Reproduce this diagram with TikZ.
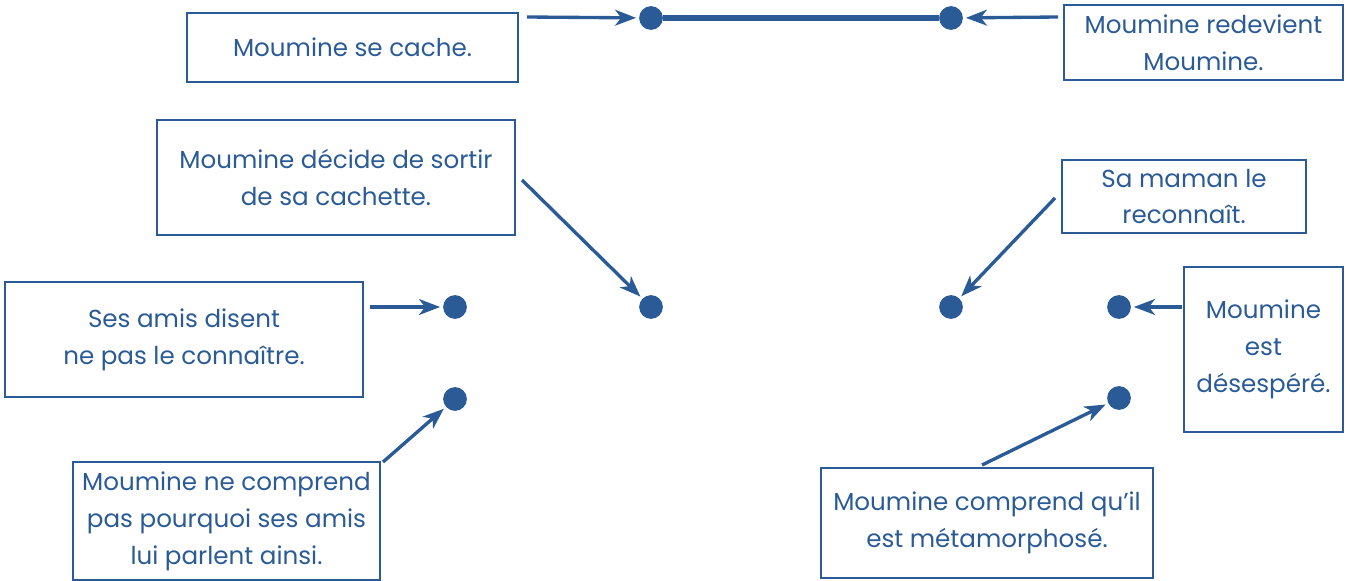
\documentclass[tikz,border=0pt]{standalone}
\usepackage{fontspec}
\setmainfont{Poppins}
\usetikzlibrary{arrows.meta}
\definecolor{mblue}{HTML}{2A5B96}
\begin{document}
\begin{tikzpicture}[x=0.02cm,y=-0.02cm,
  box/.style={draw=mblue,line width=0.9pt,text=mblue,align=center,inner sep=0pt,
    font=\fontsize{14}{21}\selectfont},
  dot/.style={circle,fill=mblue,inner sep=0pt,minimum size=13.5pt},
  arr/.style={draw=mblue,line width=1.9pt,-{Stealth[length=12pt,width=9pt,inset=3.5pt]},shorten >=1.5pt}]
\useasboundingbox (0,0) rectangle (1352,581);

\node[box, minimum width=6.62cm, minimum height=1.38cm] (cache) at (352.5,47.5) {Moumine se cache.};
\node[box, minimum width=5.58cm, minimum height=1.5cm] (redev) at (1203.5,42.5) {Moumine redevient\\Moumine.};
\node[box, minimum width=7.16cm, minimum height=2.3cm] (sortir) at (336,177.5) {Moumine décide de sortir\\de sa cachette.};
\node[box, minimum width=4.88cm, minimum height=1.46cm] (maman) at (1184,196.5) {Sa maman le\\reconnaît.};
\node[box, minimum width=7.16cm, minimum height=2.3cm] (amis) at (184,339.5) {Ses amis disent\\ne pas le connaître.};
\node[box, minimum width=3.18cm, minimum height=3.3cm] (desesp) at (1263.5,349.5) {Moumine\\est\\désespéré.};
\node[box, minimum width=6.14cm, minimum height=2.36cm] (comprend) at (226.5,521) {Moumine ne comprend\\pas pourquoi ses amis\\lui parlent ainsi.};
\node[box, minimum width=6.64cm, minimum height=2.2cm] (metam) at (987,523) {Moumine comprend qu'il\\est métamorphosé.};

\node[dot] (d1) at (651,18) {};
\node[dot] (d2) at (951,18) {};
\node[dot] (d3) at (651,307) {};
\node[dot] (d4) at (951,307) {};
\node[dot] (d5) at (455,307) {};
\node[dot] (d6) at (455,399) {};
\node[dot] (d7) at (1119,307) {};
\node[dot] (d8) at (1119,398) {};

\coordinate (s1) at (527,17);
\coordinate (s2) at (1058,17);
\coordinate (s3) at (522,180);
\coordinate (s4) at (1055,198);
\coordinate (s5) at (370,307);
\coordinate (s6) at (1182,307);
\coordinate (s7) at (383,462);
\coordinate (s8) at (982,465);

\path[draw=mblue,line width=3.2pt] (d1) -- (d2);

\path[arr] (s1) -- (d1);
\path[arr] (s2) -- (d2);
\path[arr] (s3) -- (d3);
\path[arr] (s4) -- (d4);
\path[arr] (s5) -- (d5);
\path[arr] (s6) -- (d7);
\path[arr] (s7) -- (d6);
\path[arr] (s8) -- (d8);
\end{tikzpicture}
\end{document}
